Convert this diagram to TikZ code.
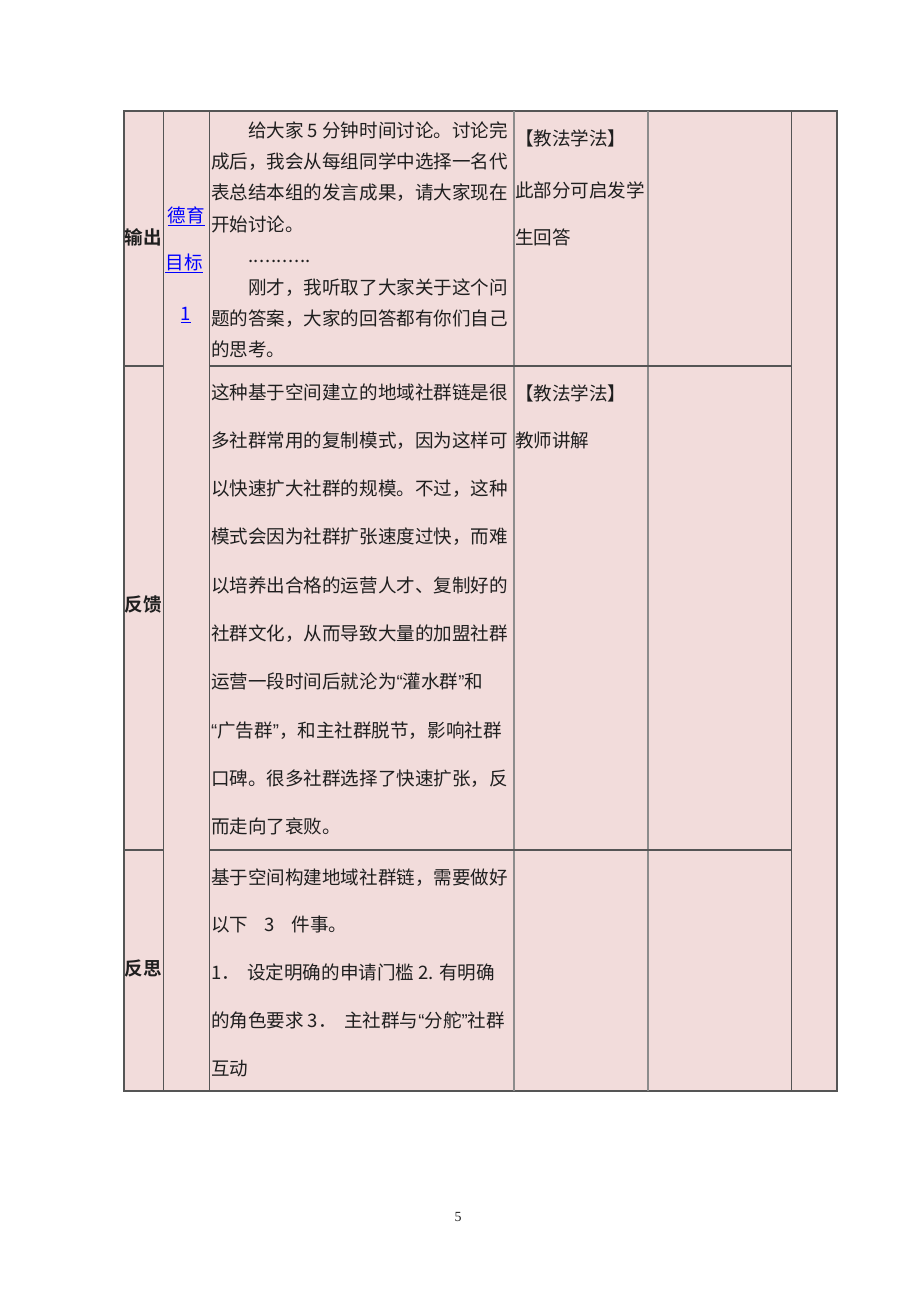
\documentclass[tikz,border=0pt]{standalone}
\usepackage{fontspec}
\setmainfont{Noto Sans CJK SC}[BoldFont={Noto Sans CJK SC Bold}]
\newfontfamily\pagefont{Liberation Serif}
\newfontfamily\quotefont{Liberation Sans}
\usepackage{xcolor}
\definecolor{cellpink}{HTML}{F2DCDB}
\definecolor{rulegray}{HTML}{555555}
\definecolor{rulelight}{HTML}{8C8C8C}
\definecolor{linkblue}{HTML}{0000FF}
\newcommand\pausedots{.\kern0.4pt.\kern0.4pt.\kern0.4pt.\kern0.4pt.\kern0.4pt.\kern0.4pt.\kern0.4pt.\kern0.4pt.\kern0.4pt.\kern0.4pt.}
\newcommand\qopen{{\quotefont “}}
\newcommand\qclose{{\quotefont ”}}

\begin{document}
\begin{tikzpicture}[x=0.6467pt,y=-0.6467pt,
  every node/.style={inner sep=0pt,outer sep=0pt,text=black!88,
    font=\fontsize{12pt}{14pt}\selectfont},
  txt/.style={anchor=base west}]
\useasboundingbox (0,0) rectangle (920,1302);
\fill[cellpink] (124,111) rectangle (837,1091);
\draw[rulegray,line width=0.7pt] (124,111) rectangle (837,1091);
\draw[rulegray,line width=0.7pt] (163.5,111) -- (163.5,1091);
\draw[rulegray,line width=0.7pt] (209.5,111) -- (209.5,1091);
\draw[rulelight,line width=0.7pt] (514,111) -- (514,1091);
\draw[rulelight,line width=0.7pt] (648,111) -- (648,1091);
\draw[rulegray,line width=0.7pt] (791.5,111) -- (791.5,1091);
\foreach \y in {366,850} {
  \draw[rulegray,line width=0.7pt] (124,\y) -- (163.5,\y);
  \draw[rulegray,line width=0.7pt] (209.5,\y) -- (791.5,\y);
}
\node[font=\fontsize{12pt}{14pt}\selectfont\bfseries] (stepout) at (143,237) {输出};
\node[font=\fontsize{12pt}{14pt}\selectfont\bfseries] (stepfeed) at (143,605) {反馈};
\node[font=\fontsize{12pt}{14pt}\selectfont\bfseries] (steprefl) at (143,968) {反思};
\node[anchor=base,text=linkblue] (goalA) at (186.5,222) {\underline{德育}};
\node[anchor=base,text=linkblue] (goalB) at (184,269) {\underline{目标}};
\node[anchor=base,text=linkblue] (goalC) at (186,320) {\underline{1}};
\foreach \t [count=\i from 0] in {
  {\hspace*{2em}给大家 5 分钟时间讨论。讨论完},
  成后，我会从每组同学中选择一名代,
  表总结本组的发言成果，请大家现在,
  开始讨论。,
  {\hspace*{2em}\pausedots},
  {\hspace*{2em}刚才，我听取了大家关于这个问},
  题的答案，大家的回答都有你们自己,
  的思考。}
  \node[txt] (outl\i) at (211,{137+31.4*\i}) {\t};
\foreach \t [count=\i from 0] in {
  这种基于空间建立的地域社群链是很,
  多社群常用的复制模式，因为这样可,
  以快速扩大社群的规模。不过，这种,
  模式会因为社群扩张速度过快，而难,
  以培养出合格的运营人才、复制好的,
  社群文化，从而导致大量的加盟社群,
  运营一段时间后就沦为\qopen 灌水群\qclose 和,
  \qopen 广告群\qclose ，和主社群脱节，影响社群,
  口碑。很多社群选择了快速扩张，反,
  而走向了衰败。}
  \node[txt] (feedl\i) at (211,{399+48.3*\i}) {\t};
\foreach \t [count=\i from 0] in {
  基于空间构建地域社群链，需要做好,
  {以下\hspace{0.9em}3\hspace{0.9em}件事。},
  {1．\hspace{0.4em}设定明确的申请门槛 2. 有明确},
  {的角色要求 3．\hspace{0.4em}主社群与\qopen 分舵\qclose 社群},
  互动}
  \node[txt] (refll\i) at (211,{884+47.8*\i}) {\t};
\node[txt] (methA) at (515,145) {【教法学法】};
\node[txt] (methB) at (515,197) {此部分可启发学};
\node[txt] (methC) at (515,244) {生回答};
\node[txt] (methD) at (515,400) {【教法学法】};
\node[txt] (methE) at (515,447) {教师讲解};
\node[font=\pagefont\fontsize{9pt}{10pt}\selectfont] (pageno) at (458,1217) {5};
\end{tikzpicture}
\end{document}
